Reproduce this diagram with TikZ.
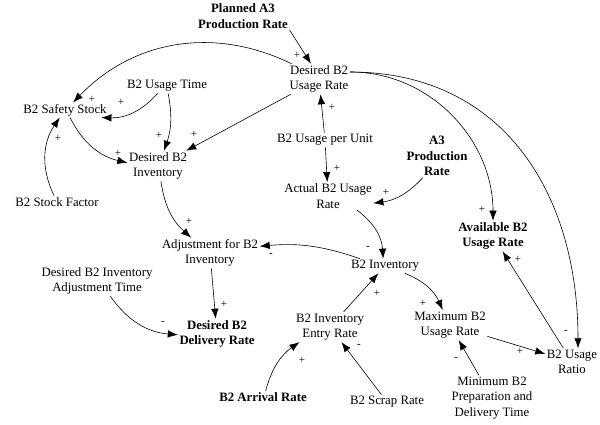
\documentclass[tikz,border=0pt]{standalone}
\usepackage{fontspec}
\setmainfont{Liberation Serif}
\newfontfamily\cldserif{Liberation Serif}
\usetikzlibrary{arrows.meta,positioning,calc}
\newcommand{\cldfont}{\cldserif\fontsize{12.8}{15.5}\selectfont}
\newcommand{\sgnfont}{\cldserif\fontsize{11}{12}\selectfont}
\tikzset{
  var/.style={align=center, inner sep=1.5pt, font=\cldfont},
  keyvar/.style={var, font=\cldfont\bfseries},
  link/.style={->, line width=0.6pt},
  sgn/.style={font=\sgnfont, inner sep=0pt},
  >={Latex[length=10pt,width=7.5pt]}
}

\begin{document}
\begin{tikzpicture}[x=1pt,y=1pt]
    \useasboundingbox (0,0) rectangle (600,-425);

    % Usage side
    \node[keyvar] (plan) at (243,-16) {Planned A3\\Production Rate};
    \node[var] (dbur) at (319,-79) {Desired B2\\Usage Rate};
    \node[var] (utime) at (167,-86) {B2 Usage Time};
    \node[var] (safe) at (65,-110) {B2 Safety Stock};
    \node[var] (dbi) at (158,-166) {Desired B2\\Inventory};
    \node[var] (sfac) at (57,-202) {B2 Stock Factor};
    \node[var] (upu) at (325,-140) {B2 Usage per Unit};
    \node[var] (act) at (328,-196) {Actual B2 Usage\\Rate};
    \node[keyvar] (a3pr) at (437,-156) {A3\\Production\\Rate};
    \node[keyvar] (avail) at (493,-236) {Available B2\\Usage Rate};

    % Inventory side
    \node[var] (adj) at (210,-253) {Adjustment for B2\\Inventory};
    \node[var] (binv) at (385,-266) {B2 Inventory};
    \node[var] (dbiat) at (97,-281) {Desired B2 Inventory\\Adjustment Time};
    \node[keyvar] (ddr) at (217,-334) {Desired B2\\Delivery Rate};
    \node[var] (entry) at (330,-327) {B2 Inventory\\Entry Rate};
    \node[var] (maxr) at (450,-325) {Maximum B2\\Usage Rate};
    \node[var] (ratio) at (572,-362) {B2 Usage\\Ratio};
    \node[var] (minp) at (492,-398) {Minimum B2\\Preparation and\\Delivery Time};
    \node[keyvar] (arr) at (263,-397) {B2 Arrival Rate};
    \node[var] (scrap) at (387,-402) {B2 Scrap Rate};

    % Links with polarity
    \draw[link] (plan.south east) -- ([xshift=-8pt]dbur.north) node[sgn] at (297,-55) {+};
    \draw[link] (dbur) to[bend right=36] (safe) node[sgn] at (92,-99) {+};
    \draw[link] (utime) to[bend left=25] (safe) node[sgn] at (121,-102) {+};
    \draw[link] (utime) to[bend left=15] (dbi) node[sgn] at (159,-135) {+};
    \draw[link] (dbur) -- (dbi) node[sgn] at (194,-134) {+};
    \draw[link] (safe) to[bend right=25] (dbi) node[sgn] at (118,-153) {+};
    \draw[link] (sfac) to[bend left=30] (safe) node[sgn] at (58,-138) {+};
    \draw[link] (upu) -- (dbur) node[sgn] at (332,-107) {+};
    \draw[link] (upu) -- (act) node[sgn] at (337,-168) {+};
    \draw[link] ([xshift=-14pt]a3pr.south) to[bend left=20] (act) node[sgn] at (386,-192) {+};
    \draw[link] (act) to[bend left=25] (binv) node[sgn] at (368,-248) {-};
    \draw[link] (binv) to[bend right=12] (adj) node[sgn] at (271,-255) {-};
    \draw[link] (dbi) to[bend right=20] (adj) node[sgn] at (189,-221) {+};
    \draw[link] (adj) -- (ddr) node[sgn] at (224,-304) {+};
    \draw[link] (dbiat) to[bend right=25] (ddr) node[sgn] at (163,-323) {-};
    \draw[link] (entry) -- (binv) node[sgn] at (377,-293) {+};
    \draw[link] (binv) to[bend left=22] (maxr) node[sgn] at (423,-303) {+};
    \draw[link] (arr) to[bend left=20] (entry) node[sgn] at (302,-360) {+};
    \draw[link] (scrap) -- (entry) node[sgn] at (359,-346) {-};
    \draw[link] (maxr) -- (ratio) node[sgn] at (520,-351) {+};
    \draw[link] (minp) -- (maxr) node[sgn] at (456,-359) {-};
    \draw[link] (ratio) -- (avail) node[sgn] at (518,-259) {+};
    \draw[link] ([yshift=7pt]dbur.east) to[out=0,in=90] (avail) node[sgn] at (482,-209) {+};
    \draw[link] ([yshift=7pt]dbur.east) to[out=0,in=90,looseness=1.1] ([xshift=6pt]ratio.north) node[sgn] at (566,-332) {-};
\end{tikzpicture}
\end{document}
